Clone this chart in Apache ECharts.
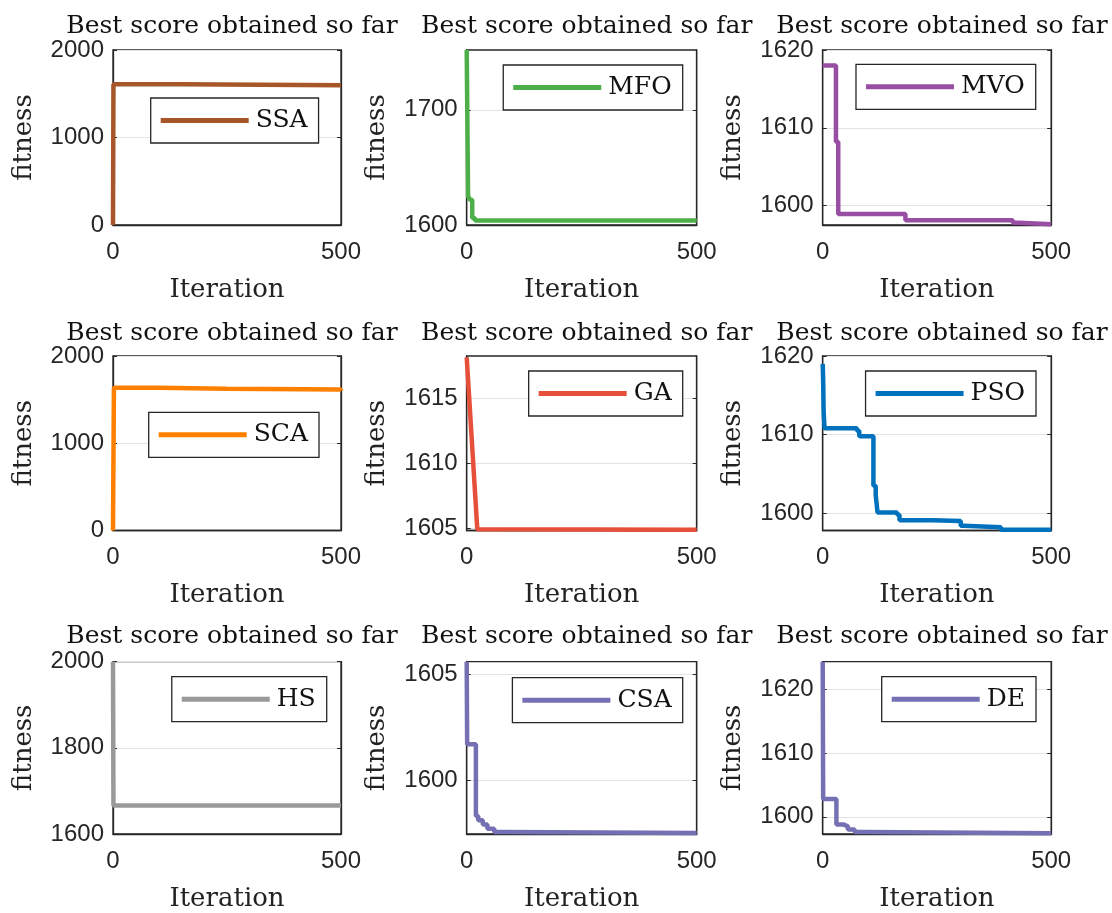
<!DOCTYPE html>
<html>
<head>
<meta charset="utf-8">
<script src="https://cdn.jsdelivr.net/npm/echarts@6/dist/echarts.min.js"></script>
<style>
html,body{margin:0;padding:0;background:#fff;}
#chart{width:1112px;height:913px;}
</style>
</head>
<body>
<div id="chart"></div>
<script>
// ---- data (convergence curves: iteration breakpoints and best fitness) ----
const names = ['SSA','MFO','MVO','SCA','GA','PSO','HS','CSA','DE'];
const colors = ['#A65628','#4DAF4A','#984EA3','#FF7F00','#E6503A','#0072BD','#999999','#7570B3','#7570B3'];

const ssaIter = [0, 1, 150, 500];
const ssaFit  = [0, 1608, 1598, 1592];
const mfoIter = [0, 3, 7, 12, 18, 500];
const mfoFit  = [1752, 1625, 1622, 1606, 1604, 1604];
const mvoIter = [0, 29, 34, 181, 416, 430, 500];
const mvoFit  = [1618, 1608.2, 1598.9, 1598.1, 1597.8, 1597.6, 1597.6];
const scaIter = [0, 2, 100, 250, 500];
const scaFit  = [0, 1635, 1625, 1615, 1605];
const gaIter  = [0, 23, 500];
const gaFit   = [1618.2, 1604.9, 1604.85];
const psoIter = [0, 1, 2, 4, 75, 80, 111, 116, 120, 163, 168, 240, 302, 308, 390, 500];
const psoFit  = [1619, 1617, 1613, 1610.8, 1610.5, 1609.8, 1603.5, 1602.3, 1600.1, 1599.8, 1599.1, 1599.0, 1598.4, 1598.2, 1597.9, 1597.9];
const hsIter  = [0, 1, 500];
const hsFit   = [2000, 1666, 1666];
const csaIter = [0, 1, 20, 25, 35, 45, 60, 80, 500];
const csaFit  = [1605.6, 1601.7, 1598.3, 1598.1, 1597.9, 1597.7, 1597.55, 1597.5, 1597.5];
const deIter  = [0, 1, 30, 45, 55, 70, 90, 500];
const deFit   = [1624.3, 1602.8, 1598.8, 1598.5, 1598.0, 1597.6, 1597.4, 1597.4];

const iters = [ssaIter, mfoIter, mvoIter, scaIter, gaIter, psoIter, hsIter, csaIter, deIter];
const fits  = [ssaFit, mfoFit, mvoFit, scaFit, gaFit, psoFit, hsFit, csaFit, deFit];
const stepped = [true, true, true, true, false, true, true, true, true];

// y axis limits and tick labels
const yMin = [0, 1600, 1597.5, 0, 1604.8, 1597.8, 1600, 1597.45, 1597.3];
const yMax = [2000, 1752, 1620, 2000, 1618.3, 1620, 2000, 1605.6, 1624.3];
const yTicks = [
  [0, 1000, 2000], [1600, 1700], [1600, 1610, 1620],
  [0, 1000, 2000], [1605, 1610, 1615], [1600, 1610, 1620],
  [1600, 1800, 2000], [1600, 1605], [1600, 1610, 1620]
];
const xTicks = [0, 500];
const titleText = 'Best score obtained so far';
const xName = 'Iteration';
const yName = 'fitness';

// ---- layout ----
const colLeft = [113, 466.7, 822.7];
const colWidth = [228, 230, 228.5];
const rowTop = [50, 356, 661.7];
const rowHeight = [175, 174.5, 176.7];
const titleTop = [9, 316, 619];
const legendPos = [
  {left: 150.7, top: 98}, {right: 429.3, top: 65}, {right: 76.3, top: 64.3},
  {left: 148.7, top: 412.3}, {right: 429.3, top: 371}, {right: 76, top: 371},
  {right: 785.3, top: 676.7}, {right: 429.3, top: 677.7}, {right: 76, top: 676.7}
];

const serif = 'DejaVu Serif';
const sans = 'Liberation Sans';
const axisColor = '#262626';
const plain = v => String(v);

const grid = [], xAxis = [], yAxis = [], yAxisRight = [], series = [], legend = [], title = [];
for (let i = 0; i < 9; i++) {
  const r = Math.floor(i / 3), c = i % 3;
  grid.push({left: colLeft[c], top: rowTop[r], width: colWidth[c], height: rowHeight[r],
    show: true, borderColor: axisColor, borderWidth: 1.3, backgroundColor: '#fff', containLabel: false});
  xAxis.push({type: 'value', gridIndex: i, min: 0, max: 500, interval: 500,
    name: xName, nameLocation: 'middle', nameGap: 52,
    nameTextStyle: {fontFamily: serif, fontSize: 26, color: '#222'},
    axisLine: {show: true, lineStyle: {color: axisColor, width: 1.3}},
    axisTick: {show: true, inside: true, length: 4, lineStyle: {color: axisColor}},
    axisLabel: {fontFamily: sans, fontSize: 24, color: axisColor, margin: 15, customValues: xTicks, formatter: plain},
    splitLine: {show: false}});
  yAxis.push({type: 'value', gridIndex: i, min: yMin[i], max: yMax[i],
    name: yName, nameLocation: 'middle', nameGap: 76, nameRotate: 90,
    nameTextStyle: {fontFamily: serif, fontSize: 26, color: '#222'},
    axisLine: {show: true, lineStyle: {color: axisColor, width: 1.3}},
    axisTick: {show: true, inside: true, length: 4, lineStyle: {color: axisColor}, customValues: yTicks[i]},
    axisLabel: {fontFamily: sans, fontSize: 24, color: axisColor, margin: 9, customValues: yTicks[i], formatter: plain},
    splitLine: {show: true, lineStyle: {color: '#e3e3e3', width: 1.2}}});
  yAxisRight.push({type: 'value', gridIndex: i, position: 'right', min: yMin[i], max: yMax[i],
    axisLine: {show: true, lineStyle: {color: axisColor, width: 1.3}},
    axisTick: {show: true, inside: true, length: 4, lineStyle: {color: axisColor}, customValues: yTicks[i]},
    axisLabel: {show: false}, splitLine: {show: false}});
  series.push({type: 'line', name: names[i], xAxisIndex: i, yAxisIndex: i,
    data: iters[i].map((x, k) => [x, fits[i][k]]),
    step: stepped[i] ? 'end' : false, symbol: 'none', clip: true,
    lineStyle: {color: colors[i], width: 4.5}, itemStyle: {color: colors[i]}, z: 3});
  legend.push(Object.assign({data: [names[i]], orient: 'horizontal', selectedMode: false,
    icon: 'rect', itemWidth: 88, itemHeight: 5, itemGap: 0,
    padding: [10, 11, 10, 10], borderColor: axisColor, borderWidth: 1.3, borderRadius: 0,
    backgroundColor: '#fff',
    textStyle: {fontFamily: serif, fontSize: 25, color: '#111', padding: [0, 0, 0, 2]}}, legendPos[i]));
  title.push({text: titleText, left: colLeft[c] + colWidth[c] / 2, top: titleTop[r], textAlign: 'center',
    textStyle: {fontFamily: serif, fontSize: 25, fontWeight: 'normal', color: '#111'}});
}

const chart = echarts.init(document.getElementById('chart'), null, {renderer: 'canvas'});
chart.setOption({animation: false, backgroundColor: '#fff', title, legend, grid, xAxis,
  yAxis: yAxis.concat(yAxisRight), series});
</script>
</body>
</html>
